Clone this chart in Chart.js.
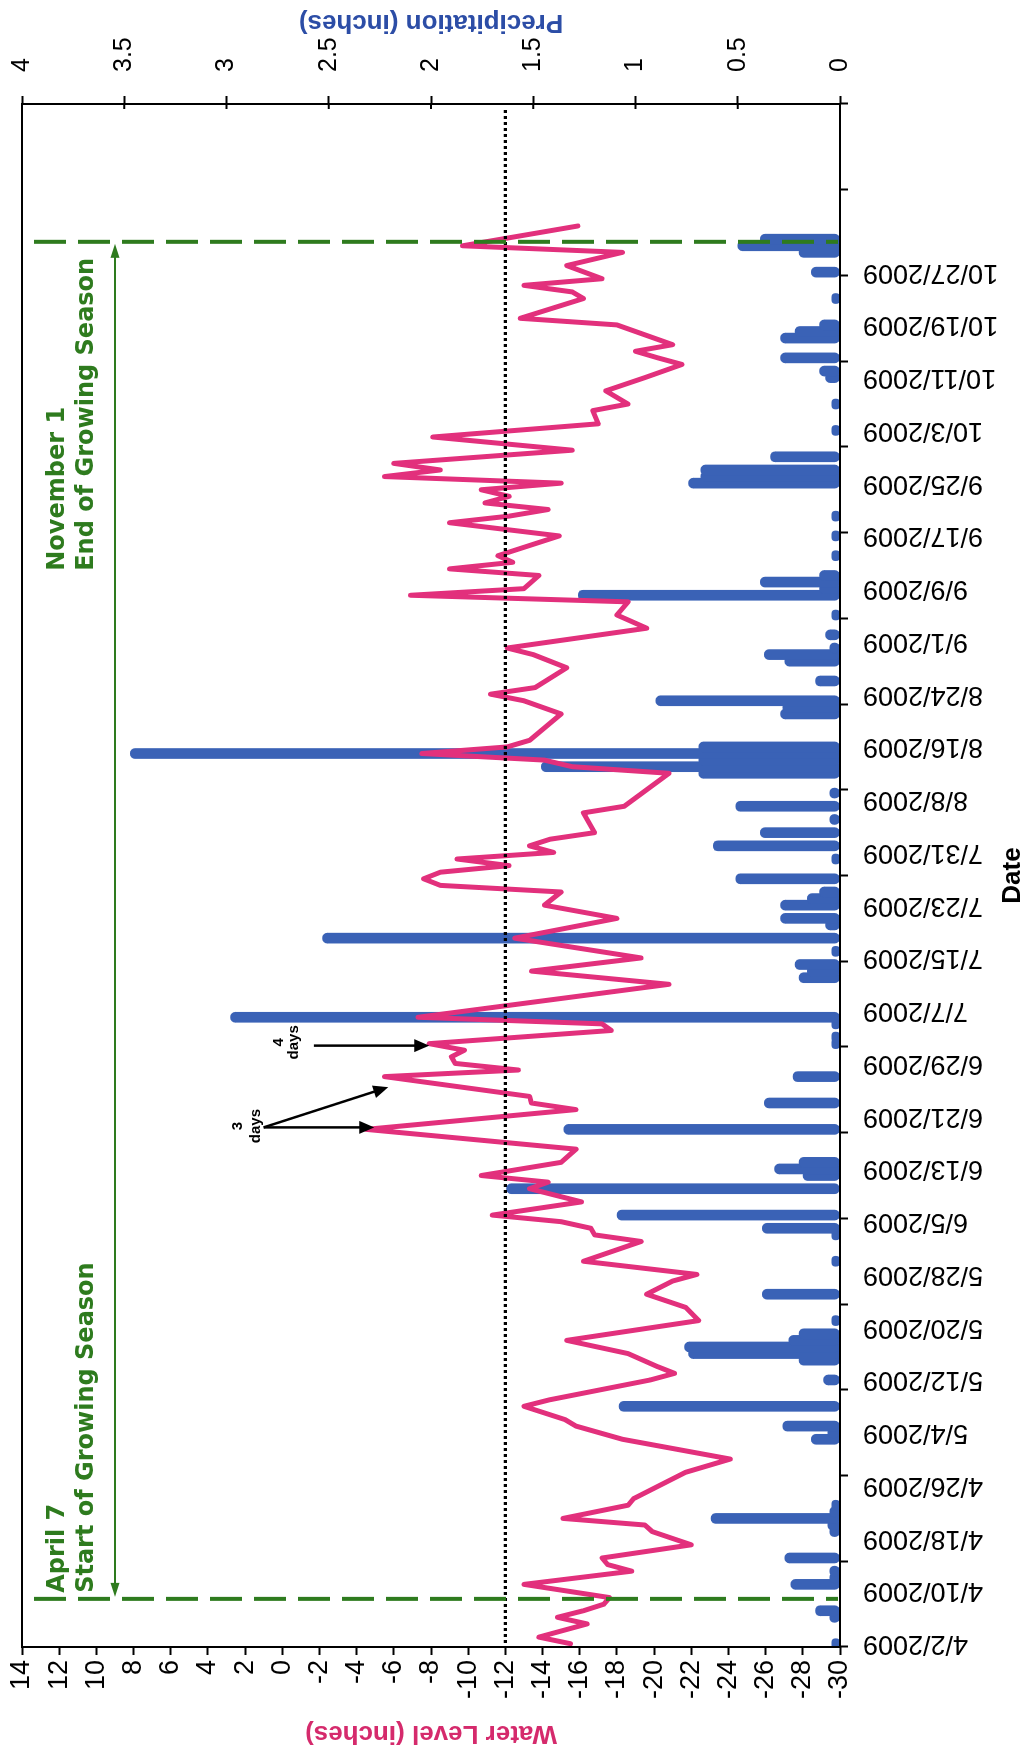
<!DOCTYPE html>
<html><head><meta charset="utf-8">
<script src="https://cdn.jsdelivr.net/npm/chart.js@4.4.1/dist/chart.umd.min.js"></script>
<style>
html,body{margin:0;padding:0;background:#fff;overflow:hidden;width:1029px;height:1754px;}
#wrap{position:absolute;left:0;top:0;width:1754px;height:1029px;transform-origin:0 0;transform:translateY(1754px) rotate(-90deg);background:#fff;}
</style></head><body>
<div id="wrap"><canvas id="c" width="1754" height="1029"></canvas></div>
<script>
// Day index 0 = 4/2/2009 (one category per day)
const dateLabels = ['4/2/2009','4/10/2009','4/18/2009','4/26/2009','5/4/2009','5/12/2009','5/20/2009','5/28/2009','6/5/2009','6/13/2009','6/21/2009','6/29/2009','7/7/2009','7/15/2009','7/23/2009','7/31/2009','8/8/2009','8/16/2009','8/24/2009','9/1/2009','9/9/2009','9/17/2009','9/25/2009','10/3/2009','10/11/2009','10/19/2009','10/27/2009'];
const labelDays = [0,8,16,24,32,40,48,56,64,72,80,88,96,104,112,120,128,136,144,152,160,168,176,184,192,200,208];
const tickMarkDays = [-0.5,12.5,25.5,38.5,51.5,64.5,77.5,90.5,103.5,116.5,129.5,142.5,155.5,168.5,181.5,194.5,207.5,220.5,233.5];

const waterDays = [
  0,1,3,4,5,6,7,9,11,12,
  13,15,17,18,19,21,22,26,28,31,
  33,34,36,37,40,41,42,44,46,49,
  51,53,55,56,58,61,62,63,64,65,
  67,69,70,71,73,75,78,81,82,83,
  86,87,88,89,90,91,93,94,95,100,
  102,104,107,110,112,114,115,116,117,118,
  119,120,121,122,123,126,127,132,133,134,
  135,136,137,141,143,144,145,148,149,150,
  151,154,156,158,159,160,162,163,164,165,
  168,170,171,172,173,174,175,176,177,178,
  179,181,183,185,187,188,190,192,194,195,
  196,197,200,201,204,205,206,207,209,211,
  212,215];
const waterLevels = [
  -15.5,-13.8,-16.4,-14.8,-16.2,-17.3,-17.6,-13.0,-18.8,-17.5,
  -17.2,-22.0,-19.9,-19.5,-15.1,-18.6,-18.9,-21.7,-24.1,-18.3,
  -15.8,-15.2,-13.0,-14.4,-19.8,-21.1,-20.2,-18.6,-15.3,-22.4,
  -21.7,-19.6,-21.0,-22.3,-16.2,-19.3,-16.8,-16.6,-15.0,-11.3,
  -16.1,-13.3,-14.3,-10.7,-15.0,-15.8,-4.5,-15.8,-13.4,-13.3,
  -5.5,-12.7,-9.3,-9.1,-9.8,-7.9,-17.7,-17.2,-7.3,-20.8,
  -13.4,-19.3,-12.5,-18.0,-14.1,-15.0,-8.5,-7.6,-8.5,-12.2,
  -9.4,-14.6,-13.3,-14.4,-16.8,-16.2,-18.4,-20.8,-15.6,-14.1,
  -7.5,-12.1,-13.3,-15.0,-13.0,-11.2,-13.6,-15.3,-14.4,-13.5,
  -12.1,-19.6,-18.0,-18.6,-6.9,-13.0,-13.8,-9.0,-12.4,-11.6,
  -14.9,-9.0,-12.2,-14.3,-10.9,-12.2,-10.7,-15.0,-5.5,-8.5,
  -6.0,-15.6,-8.1,-17.0,-16.7,-18.6,-17.4,-19.5,-21.5,-20.2,
  -19.0,-21.0,-18.0,-12.8,-16.2,-15.6,-13.0,-17.2,-15.3,-18.3,
  -9.7,-15.9];

const precipDays = [
  0,4,5,9,10,11,13,17,18,19,
  20,21,31,32,33,36,40,43,44,45,
  46,47,49,53,58,62,63,65,69,71,
  72,73,78,82,86,91,92,94,95,101,
  102,103,105,107,109,110,112,113,114,116,
  119,121,123,125,127,129,132,133,134,135,
  136,141,142,143,146,149,150,151,153,156,
  159,160,161,162,165,168,171,176,177,178,
  180,184,188,192,193,195,198,199,200,204,
  208,211,212,213];
const precipInches = [
  0.04,0.05,0.12,0.24,0.05,0.05,0.27,0.05,0.06,0.63,
  0.05,0.04,0.14,0.06,0.28,1.08,0.08,0.20,0.74,0.76,
  0.25,0.20,0.04,0.38,0.04,0.04,0.38,1.09,1.63,0.18,
  0.32,0.20,1.35,0.37,0.23,0.04,0.04,0.04,2.98,0.20,
  0.16,0.22,0.04,2.53,0.07,0.29,0.29,0.16,0.10,0.51,
  0.04,0.62,0.39,0.05,0.51,0.05,0.69,1.46,0.69,3.47,
  0.69,0.29,0.28,0.90,0.12,0.27,0.37,0.05,0.07,0.04,
  1.28,0.10,0.39,0.10,0.04,0.04,0.04,0.74,0.68,0.68,
  0.34,0.04,0.04,0.07,0.10,0.29,0.29,0.22,0.10,0.04,
  0.14,0.20,0.50,0.39];

const thresholdLevel = -12;
const seasonStartDay = 6.8;   // April 7 line as drawn
const seasonEndDay = 212.6;   // November 1 line as drawn
const seasonArrowLevel = 9;

const GREEN = '#2e7b1e', PINK = '#e2307c', BLUE = '#3a62b6', PINK_T = '#d52a6c', BLUE_T = '#2c4da6';

function head(ctx, x1, y1, x2, y2, len, w) {
  const ang = Math.atan2(y2 - y1, x2 - x1);
  ctx.beginPath();
  ctx.moveTo(x2, y2);
  ctx.lineTo(x2 - len * Math.cos(ang) + w / 2 * Math.sin(ang), y2 - len * Math.sin(ang) - w / 2 * Math.cos(ang));
  ctx.lineTo(x2 - len * Math.cos(ang) - w / 2 * Math.sin(ang), y2 - len * Math.sin(ang) + w / 2 * Math.cos(ang));
  ctx.closePath();
  ctx.fill();
}

const notes = [
  {lines: ['3', 'days'], day: 78.5, levels: [2.4, 1.4], from: [78.3, 1.0], tips: [[78.3, -4.95], [84.4, -5.7]]},
  {lines: ['4', 'days'], day: 91.2, levels: [0.2, -0.6], from: [90.7, -1.7], tips: [[90.7, -7.9]]}
];

const noPad = s => { s.paddingLeft = 0; s.paddingRight = 0; s.paddingTop = 0; s.paddingBottom = 0; };

const overlay = {
  id: 'overlay',
  afterDatasetsDraw(chart) {
    const {ctx, chartArea: a, scales} = chart;
    const x = scales.x, y = scales.y, y2 = scales.y2;
    ctx.save();
    // threshold dotted line
    const ty = y.getPixelForValue(thresholdLevel);
    ctx.setLineDash([3, 3]); ctx.lineWidth = 3.2; ctx.strokeStyle = '#000';
    ctx.beginPath(); ctx.moveTo(a.left + 4, ty); ctx.lineTo(a.right - 4, ty); ctx.stroke();
    // season dashed lines
    const sx = x.getPixelForValue(seasonStartDay), ex = x.getPixelForValue(seasonEndDay);
    ctx.setLineDash([32, 12]); ctx.lineWidth = 4; ctx.strokeStyle = GREEN;
    [sx, ex].forEach(px => { ctx.beginPath(); ctx.moveTo(px, a.top + 12); ctx.lineTo(px, a.bottom - 2); ctx.stroke(); });
    // double arrow
    ctx.setLineDash([]); ctx.lineWidth = 2; ctx.fillStyle = GREEN;
    const ay = y.getPixelForValue(seasonArrowLevel);
    ctx.beginPath(); ctx.moveTo(sx + 12, ay); ctx.lineTo(ex - 12, ay); ctx.stroke();
    head(ctx, sx + 20, ay, sx + 2, ay, 14, 9);
    head(ctx, ex - 20, ay, ex - 2, ay, 14, 9);
    // green labels
    ctx.font = "bold 24px 'DejaVu Sans', sans-serif";
    ctx.textBaseline = 'middle'; ctx.textAlign = 'left';
    const l1 = y.getPixelForValue(12.1), l2 = y.getPixelForValue(10.5);
    ctx.fillText('April 7', sx + 6, l1);
    ctx.fillText('Start of Growing Season', sx + 6, l2);
    const w = ctx.measureText('End of Growing Season').width;
    ctx.fillText('November 1', ex - 16 - w, l1);
    ctx.fillText('End of Growing Season', ex - 16 - w, l2);
    // black arrow notes
    ctx.fillStyle = '#000'; ctx.strokeStyle = '#000'; ctx.lineWidth = 2.5;
    ctx.font = "bold 15px 'Liberation Sans', Arial, sans-serif"; ctx.textAlign = 'center';
    notes.forEach(n => {
      n.lines.forEach((t, i) => ctx.fillText(t, x.getPixelForValue(n.day), y.getPixelForValue(n.levels[i])));
      const fx = x.getPixelForValue(n.from[0]), fy = y.getPixelForValue(n.from[1]);
      n.tips.forEach(tp => {
        const tx = x.getPixelForValue(tp[0]), tyy = y.getPixelForValue(tp[1]);
        const ang = Math.atan2(tyy - fy, tx - fx);
        ctx.beginPath(); ctx.moveTo(fx, fy); ctx.lineTo(tx - 10 * Math.cos(ang), tyy - 10 * Math.sin(ang)); ctx.stroke();
        head(ctx, fx, fy, tx, tyy, 15, 13);
      });
    });
    // plot frame
    ctx.lineWidth = 2; ctx.strokeStyle = '#000';
    ctx.strokeRect(a.left, a.top, a.right - a.left, a.bottom - a.top);
    // inner half of precipitation tick marks
    y2.ticks.forEach(t => {
      const py = y2.getPixelForValue(t.value);
      ctx.beginPath(); ctx.moveTo(a.right - 5, py); ctx.lineTo(a.right, py); ctx.stroke();
    });
    ctx.restore();
  },
  afterDraw(chart) {
    const {ctx, chartArea: a} = chart;
    ctx.save();
    ctx.translate(1732, (a.top + a.bottom) / 2);
    ctx.rotate(-Math.PI / 2);
    ctx.font = "bold 26px 'Liberation Sans', Arial, sans-serif";
    ctx.fillStyle = BLUE_T; ctx.textAlign = 'center'; ctx.textBaseline = 'middle';
    ctx.fillText('Precipitation (inches)', 0, 0);
    ctx.restore();
  }
};

Chart.defaults.font.family = "'Liberation Sans', Arial, sans-serif";
Chart.defaults.color = '#000';

new Chart(document.getElementById('c'), {
  type: 'bar',
  data: {
    datasets: [
      {
        type: 'line', label: 'Water Level',
        data: waterDays.map((d, i) => ({x: d, y: waterLevels[i]})),
        yAxisID: 'y', borderColor: PINK, borderWidth: 5, pointRadius: 0, tension: 0,
        borderJoinStyle: 'round', borderCapStyle: 'round', order: 0
      },
      {
        type: 'bar', label: 'Precipitation',
        data: precipDays.map((d, i) => ({x: d, y: precipInches[i]})),
        yAxisID: 'y2', backgroundColor: BLUE, barThickness: 10, borderRadius: 5, borderSkipped: false, order: 1
      }
    ]
  },
  options: {
    responsive: false, animation: false,
    layout: {padding: {top: 22, left: 0, right: 0, bottom: 0}},
    plugins: {legend: {display: false}, tooltip: {enabled: false}},
    scales: {
      x: {
        type: 'linear', position: 'bottom', min: -0.5, max: 233.5, offset: false,
        afterBuildTicks: s => { s.ticks = [...labelDays, ...tickMarkDays].sort((p, q) => p - q).map(v => ({value: v})); },
        afterFit: s => { s.height = 189; noPad(s); },
        ticks: {
          autoSkip: false, minRotation: 90, maxRotation: 90, padding: 15,
          font: {size: 27}, color: '#000',
          callback: v => { const i = labelDays.indexOf(v); return i >= 0 ? dateLabels[i] : ''; }
        },
        grid: {
          offset: false, drawOnChartArea: false, drawTicks: true, tickLength: 8, tickWidth: 2,
          tickColor: c => (c.tick && tickMarkDays.includes(c.tick.value)) ? '#000' : 'rgba(0,0,0,0)'
        },
        border: {display: false},
        title: {display: true, text: 'Date', font: {size: 26, weight: 'bold'}, color: '#000', padding: {top: 0, bottom: 1}}
      },
      y: {
        type: 'linear', position: 'left', min: -30, max: 14,
        afterFit: s => { s.width = 107; noPad(s); },
        ticks: {stepSize: 2, font: {size: 27}, color: '#000', padding: 5},
        grid: {drawOnChartArea: false, drawTicks: true, tickLength: 8, tickWidth: 2, tickColor: '#000'},
        border: {display: false},
        title: {display: true, text: 'Water Level (inches)', font: {size: 26, weight: 'bold'}, color: PINK_T, padding: {top: 5, bottom: 0}}
      },
      y2: {
        type: 'linear', position: 'right', min: 0, max: 4,
        afterFit: s => { s.width = 104; noPad(s); },
        ticks: {stepSize: 0.5, font: {size: 25}, color: '#000', padding: 24, callback: v => String(v)},
        grid: {drawOnChartArea: false, drawTicks: true, tickLength: 8, tickWidth: 2, tickColor: '#000'},
        border: {display: false},
        title: {display: false}
      }
    }
  },
  plugins: [overlay]
});
</script>
</body></html>
